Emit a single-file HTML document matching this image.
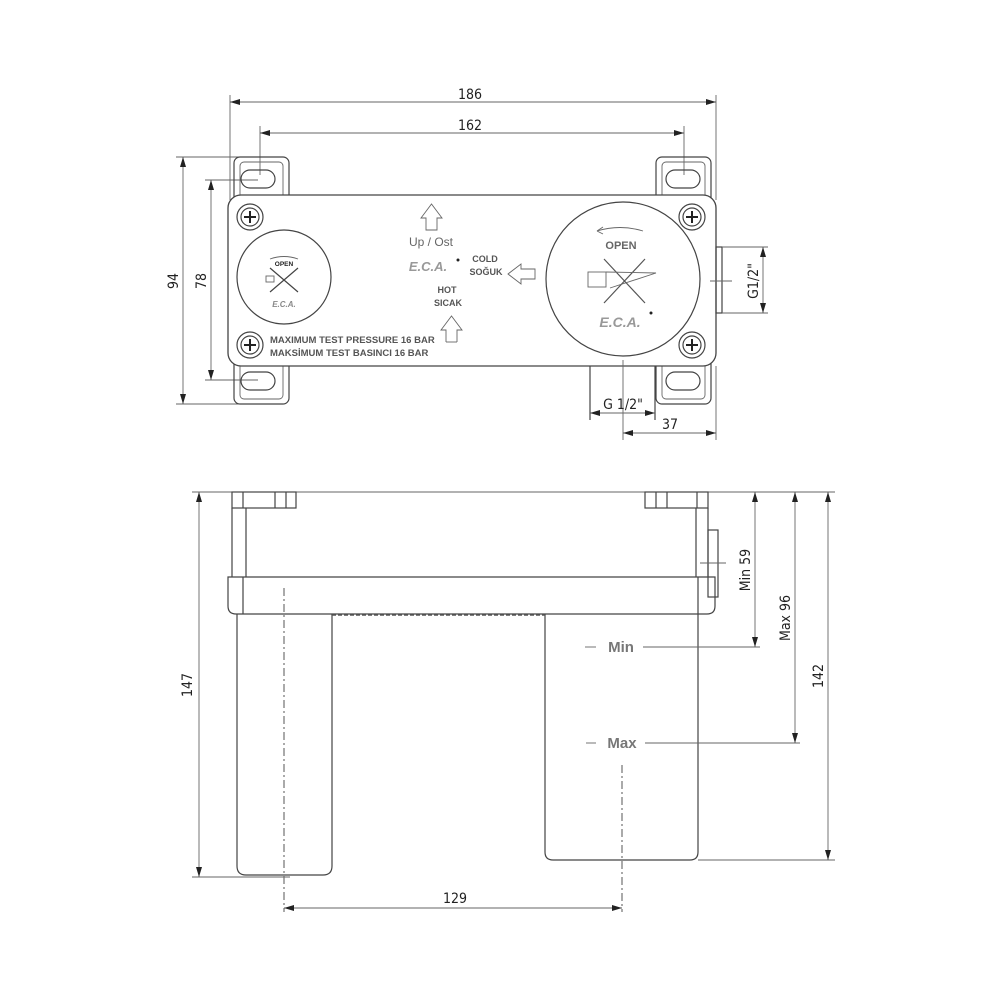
<!DOCTYPE html>
<html><head><meta charset="utf-8"><style>
html,body{margin:0;padding:0;background:#fff}
svg{display:block}
text{font-family:"DejaVu Sans Condensed","DejaVu Sans","Liberation Sans",sans-serif;fill:#222}
.l{stroke:#444;stroke-width:1.2;fill:none}
.t{stroke:#666;stroke-width:0.9;fill:none}
.d{stroke:#555;stroke-width:1;fill:none;stroke-dasharray:8,3,2,3}
.g{fill:#777;font-family:"Liberation Sans",sans-serif;font-weight:bold}
</style></head><body>
<svg width="1000" height="1000" viewBox="0 0 1000 1000" xmlns="http://www.w3.org/2000/svg">
<defs>
<marker id="a" markerWidth="10" markerHeight="6" refX="10" refY="3" orient="auto-start-reverse" markerUnits="userSpaceOnUse"><path d="M0,0 L10,3 L0,6z" fill="#222"/></marker>
</defs>

<!-- TOP VIEW -->
<!-- dim 186 -->
<line class="t" x1="230" y1="95" x2="230" y2="200"/><line class="t" x1="716" y1="95" x2="716" y2="200"/>
<line class="t" x1="230" y1="102" x2="716" y2="102" marker-start="url(#a)" marker-end="url(#a)"/>
<text x="470" y="99" font-size="14" text-anchor="middle">186</text>
<line class="t" x1="260" y1="126" x2="260" y2="175"/><line class="t" x1="684" y1="126" x2="684" y2="175"/>
<line class="t" x1="260" y1="133" x2="684" y2="133" marker-start="url(#a)" marker-end="url(#a)"/>
<text x="470" y="130" font-size="14" text-anchor="middle">162</text>
<!-- 94 / 78 -->
<line class="t" x1="176" y1="157" x2="240" y2="157"/><line class="t" x1="176" y1="404" x2="240" y2="404"/>
<line class="t" x1="183" y1="157" x2="183" y2="404" marker-start="url(#a)" marker-end="url(#a)"/>
<text transform="translate(178,281) rotate(-90)" font-size="14" text-anchor="middle">94</text>
<line class="t" x1="205" y1="180" x2="258" y2="180"/><line class="t" x1="205" y1="380" x2="258" y2="380"/>
<line class="t" x1="211" y1="180" x2="211" y2="380" marker-start="url(#a)" marker-end="url(#a)"/>
<text transform="translate(206,281) rotate(-90)" font-size="14" text-anchor="middle">78</text>

<!-- brackets -->
<g class="l">
<rect x="234" y="157" width="55" height="48" rx="6"/>
<rect x="240" y="162" width="43" height="38" rx="4" class="t"/>
<rect x="241" y="170" width="34" height="18" rx="9"/>
<rect x="234" y="356" width="55" height="48" rx="6"/>
<rect x="240" y="362" width="43" height="37" rx="4" class="t"/>
<rect x="241" y="372" width="34" height="18" rx="9"/>
<rect x="656" y="157" width="55" height="48" rx="6"/>
<rect x="662" y="162" width="43" height="38" rx="4" class="t"/>
<rect x="666" y="170" width="34" height="18" rx="9"/>
<rect x="656" y="356" width="55" height="48" rx="6"/>
<rect x="662" y="362" width="43" height="37" rx="4" class="t"/>
<rect x="666" y="372" width="34" height="18" rx="9"/>
</g>
<!-- plate -->
<rect x="228" y="195" width="488" height="171" rx="13" fill="#fff" stroke="#444" stroke-width="1.3"/>
<!-- screws -->
<g class="l">
<circle cx="250" cy="217" r="13"/><circle cx="250" cy="217" r="9"/>
<circle cx="250" cy="345" r="13"/><circle cx="250" cy="345" r="9"/>
<circle cx="692" cy="217" r="13"/><circle cx="692" cy="217" r="9"/>
<circle cx="692" cy="345" r="13"/><circle cx="692" cy="345" r="9"/>
</g>
<g stroke="#222" stroke-width="2">
<path d="M244,217h12M250,211v12"/><path d="M244,345h12M250,339v12"/>
<path d="M686,217h12M692,211v12"/><path d="M686,345h12M692,339v12"/>
</g>
<!-- left knob -->
<circle cx="284" cy="277" r="47" class="l"/>
<path d="M270,259 Q284,254 298,259" class="t"/>
<text x="284" y="266" font-size="6.5" font-weight="bold" text-anchor="middle" style="font-family:'Liberation Sans',sans-serif">OPEN</text>
<path d="M270,268 L298,292 M298,268 L270,292" stroke="#444" stroke-width="1.2"/>
<rect x="266" y="276" width="8" height="6" class="t"/>
<text x="284" y="307" font-size="8" font-style="italic" font-weight="bold" fill="#888" text-anchor="middle" style="font-family:'Liberation Sans',sans-serif;fill:#888">E.C.A.</text>
<!-- pressure text -->
<text x="270" y="343" font-size="9.5" font-weight="bold" style="font-family:'Liberation Sans',sans-serif;fill:#555">MAXIMUM TEST PRESSURE 16 BAR</text>
<text x="270" y="356" font-size="9.5" font-weight="bold" style="font-family:'Liberation Sans',sans-serif;fill:#555">MAKSİMUM TEST BASINCI 16 BAR</text>
<!-- center marks -->
<path d="M426,218 L426,230 L437,230 L437,218 L442,218 L431.5,204 L421,218 Z" class="t"/>
<text x="431" y="246" font-size="12" text-anchor="middle" style="font-family:'Liberation Sans',sans-serif;fill:#666">Up / Ost</text>
<text x="428" y="271" font-size="13" font-style="italic" font-weight="bold" text-anchor="middle" style="font-family:'Liberation Sans',sans-serif;fill:#999">E.C.A.</text>
<circle cx="458" cy="260" r="1.5" fill="#222"/>
<text x="485" y="262" font-size="9" font-weight="bold" text-anchor="middle" style="font-family:'Liberation Sans',sans-serif;fill:#555">COLD</text>
<text x="486" y="275" font-size="9" font-weight="bold" text-anchor="middle" style="font-family:'Liberation Sans',sans-serif;fill:#555">SOĞUK</text>
<path d="M535,269 L521,269 L521,264 L508,274 L521,284 L521,279 L535,279 Z" class="t"/>
<text x="447" y="293" font-size="9" font-weight="bold" text-anchor="middle" style="font-family:'Liberation Sans',sans-serif;fill:#555">HOT</text>
<text x="448" y="306" font-size="9" font-weight="bold" text-anchor="middle" style="font-family:'Liberation Sans',sans-serif;fill:#555">SICAK</text>
<path d="M446,342 L446,330 L441,330 L451.5,316 L462,330 L457,330 L457,342" class="t"/>
<path d="M446,342 L457,342" class="t"/>
<!-- right knob -->
<circle cx="623" cy="279" r="77" class="l"/>
<path d="M597,231 Q620,224 643,231" class="t"/><path d="M597,231 l6,-4 M597,231 l6,3" class="t"/>
<text x="621" y="249" font-size="11" font-weight="bold" text-anchor="middle" style="font-family:'Liberation Sans',sans-serif;fill:#666">OPEN</text>
<path d="M604,259 L645,303 M645,259 L604,303" stroke="#555" stroke-width="1.2"/>
<rect x="588" y="272" width="18" height="15" class="t"/>
<path d="M606,272 L656,273 L610,288" class="t"/>
<text x="620" y="327" font-size="14" font-style="italic" font-weight="bold" text-anchor="middle" style="font-family:'Liberation Sans',sans-serif;fill:#999">E.C.A.</text>
<circle cx="651" cy="313" r="1.5" fill="#222"/>
<line class="t" x1="623" y1="360" x2="623" y2="440"/>
<!-- G1/2 right -->
<rect x="716" y="247" width="6" height="66" class="l"/>
<line class="t" x1="722" y1="247" x2="768" y2="247"/><line class="t" x1="722" y1="313" x2="768" y2="313"/>
<line class="t" x1="763" y1="247" x2="763" y2="313" marker-start="url(#a)" marker-end="url(#a)"/>
<line class="t" x1="710" y1="281" x2="732" y2="281"/>
<text transform="translate(758,281) rotate(-90)" font-size="14" text-anchor="middle">G1/2"</text>
<!-- bottom stub -->
<line class="l" x1="590" y1="366" x2="590" y2="420"/><line class="l" x1="655" y1="366" x2="655" y2="420"/>
<line class="t" x1="590" y1="413" x2="655" y2="413" marker-start="url(#a)" marker-end="url(#a)"/>
<text x="623" y="409" font-size="14" text-anchor="middle">G 1/2"</text>
<line class="t" x1="716" y1="366" x2="716" y2="440"/>
<line class="t" x1="623" y1="433" x2="716" y2="433" marker-start="url(#a)" marker-end="url(#a)"/>
<text x="670" y="429" font-size="14" text-anchor="middle">37</text>

<!-- FRONT VIEW -->
<line class="t" x1="192" y1="492" x2="835" y2="492"/>
<g class="l">
<rect x="232" y="492" width="64" height="16"/>
<path d="M243,492v16M275,492v16M286,492v16"/>
<rect x="645" y="492" width="63" height="16"/>
<path d="M656,492v16M667,492v16M697,492v16"/>
<path d="M232,508V577M246,508V577M696,508V577M708,508V577"/>
<rect x="708" y="530" width="10" height="67"/>
<path d="M228,577 H715 V606 Q715,614 707,614 H236 Q228,614 228,606 Z"/>
<path d="M243,577V614M698,577V614"/>
<path d="M237,614 V866 Q237,875 246,875 H323 Q332,875 332,866 V614"/>
<path d="M545,614 V852 Q545,860 553,860 H690 Q698,860 698,852 V614"/>
</g>
<line stroke="#555" stroke-width="1.5" stroke-dasharray="4,2" x1="332" y1="615" x2="545" y2="615"/>
<line class="t" x1="700" y1="563" x2="726" y2="563"/>
<line class="d" x1="284" y1="588" x2="284" y2="912"/>
<line class="d" x1="622" y1="765" x2="622" y2="912"/>
<line class="t" x1="284" y1="908" x2="622" y2="908" marker-start="url(#a)" marker-end="url(#a)"/>
<text x="455" y="903" font-size="14" text-anchor="middle">129</text>
<!-- 147 -->
<line class="t" x1="192" y1="877" x2="290" y2="877"/>
<line class="t" x1="199" y1="492" x2="199" y2="877" marker-start="url(#a)" marker-end="url(#a)"/>
<text transform="translate(192,685) rotate(-90)" font-size="14" text-anchor="middle">147</text>
<!-- Min 59 -->
<text x="621" y="652" font-size="15" text-anchor="middle" class="g">Min</text>
<line class="t" x1="585" y1="647" x2="596" y2="647" stroke="#999"/>
<line class="t" x1="643" y1="647" x2="760" y2="647"/>
<line class="t" x1="755" y1="492" x2="755" y2="647" marker-start="url(#a)" marker-end="url(#a)"/>
<text transform="translate(750,570) rotate(-90)" font-size="14" text-anchor="middle">Min  59</text>
<!-- Max 96 -->
<text x="622" y="748" font-size="15" text-anchor="middle" class="g">Max</text>
<line class="t" x1="586" y1="743" x2="596" y2="743" stroke="#999"/>
<line class="t" x1="645" y1="743" x2="800" y2="743"/>
<line class="t" x1="795" y1="492" x2="795" y2="743" marker-start="url(#a)" marker-end="url(#a)"/>
<text transform="translate(790,618) rotate(-90)" font-size="14" text-anchor="middle">Max  96</text>
<!-- 142 -->
<line class="t" x1="698" y1="860" x2="835" y2="860"/>
<line class="t" x1="828" y1="492" x2="828" y2="860" marker-start="url(#a)" marker-end="url(#a)"/>
<text transform="translate(823,676) rotate(-90)" font-size="14" text-anchor="middle">142</text>
</svg>
</body></html>
